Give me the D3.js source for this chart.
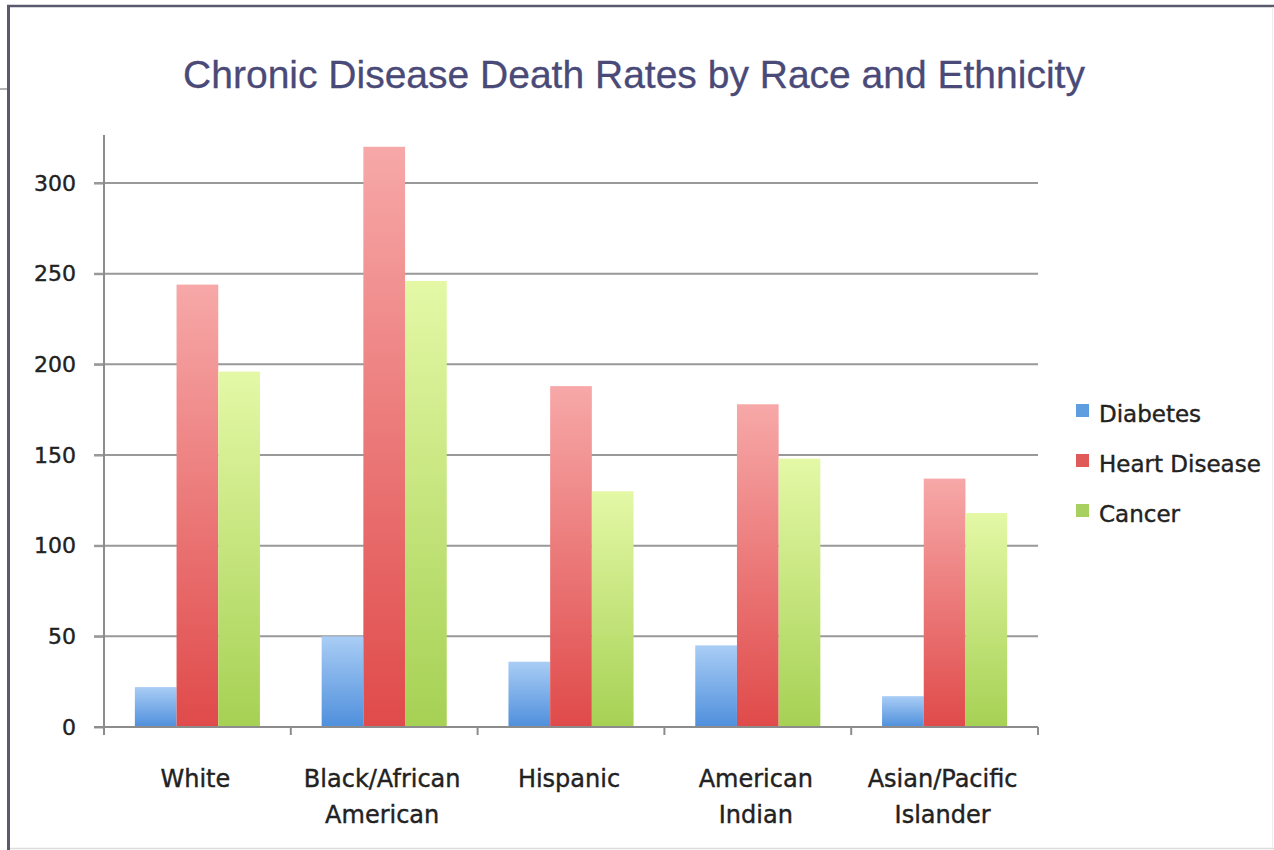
<!DOCTYPE html>
<html>
<head>
<meta charset="utf-8">
<script src="https://cdn.jsdelivr.net/npm/d3@7"></script>
<style>
  html, body { margin: 0; padding: 0; background: #ffffff; }
  svg { display: block; }
</style>
</head>
<body>
<svg id="chart" width="1274" height="850"></svg>
<script>
const categories = ["White", "Black/African American", "Hispanic", "American Indian", "Asian/Pacific Islander"];
const categoryLines = [["White"], ["Black/African", "American"], ["Hispanic"], ["American", "Indian"], ["Asian/Pacific", "Islander"]];
const seriesNames = ["Diabetes", "Heart Disease", "Cancer"];
const diabetes = [22, 50, 36, 45, 17];
const heartDisease = [244, 320, 188, 178, 137];
const cancer = [196, 246, 130, 148, 118];
const yTicks = [0, 50, 100, 150, 200, 250, 300];
const titleText = "Chronic Disease Death Rates by Race and Ethnicity";

(function () {
const seriesValues = [diabetes, heartDisease, cancer];
const gradStops = [
  ["#a9cdf5", "#4f8fdc"],
  ["#f7a8a8", "#e04a4a"],
  ["#e4f8a6", "#a6d154"]
];
const legendColors = ["#5e9de0", "#e05a5a", "#a8d060"];

const svg = d3.select("#chart");

// frame
svg.append("rect").attr("x", 0).attr("y", 0).attr("width", 1274).attr("height", 850).attr("fill", "#fff");
svg.append("line").attr("x1", 8.5).attr("x2", 8.5).attr("y1", 5).attr("y2", 850)
  .attr("stroke", "#5a5a6e").attr("stroke-width", 3);
svg.append("line").attr("x1", 7).attr("x2", 1274).attr("y1", 6).attr("y2", 6)
  .attr("stroke", "#5a5a6e").attr("stroke-width", 2.5);
svg.append("line").attr("x1", 0).attr("x2", 7).attr("y1", 89).attr("y2", 89)
  .attr("stroke", "#9a9a9a").attr("stroke-width", 1.5);
svg.append("line").attr("x1", 10).attr("x2", 1274).attr("y1", 848.5).attr("y2", 848.5)
  .attr("stroke", "#dcdcdc").attr("stroke-width", 1.5);
svg.append("line").attr("x1", 1272.5).attr("x2", 1272.5).attr("y1", 7).attr("y2", 848)
  .attr("stroke", "#eeeeee").attr("stroke-width", 1);

// gradients
const defs = svg.append("defs");
gradStops.forEach((g, i) => {
  const lg = defs.append("linearGradient").attr("id", "g" + i)
    .attr("x1", 0).attr("y1", 0).attr("x2", 0).attr("y2", 1);
  lg.append("stop").attr("offset", "0%").attr("stop-color", g[0]);
  lg.append("stop").attr("offset", "100%").attr("stop-color", g[1]);
});

// scales
const pLeft = 104, pRight = 1038, pTop = 135, pBottom = 727;
const x0 = d3.scaleBand().domain(categories).range([pLeft, pRight]).padding(0);
const x1 = d3.scaleBand().domain(seriesNames).range([0, x0.bandwidth()]).paddingInner(0).paddingOuter(0.74);
const y = d3.scaleLinear().domain([0, 326.5]).range([pBottom, pTop]);

// gridlines
svg.append("g").selectAll("line").data(yTicks.filter(d => d > 0)).join("line")
  .attr("x1", pLeft - 10).attr("x2", pRight)
  .attr("y1", d => y(d)).attr("y2", d => y(d))
  .attr("stroke", "#999").attr("stroke-width", 2);

// bars
categories.forEach((c, ci) => {
  seriesNames.forEach((s, si) => {
    const v = seriesValues[si][ci];
    svg.append("rect")
      .attr("x", x0(c) + x1(s))
      .attr("width", x1.bandwidth())
      .attr("y", y(v))
      .attr("height", y(0) - y(v))
      .attr("fill", "url(#g" + si + ")");
  });
});

// y axis
const yAxis = d3.axisLeft(y).tickValues(yTicks).tickSize(10).tickPadding(18).tickFormat(d3.format("d"));
const gy = svg.append("g").attr("transform", `translate(${pLeft},0)`).call(yAxis);
gy.select(".domain").remove();
gy.append("line").attr("x1", 0).attr("x2", 0).attr("y1", pTop).attr("y2", pBottom)
  .attr("stroke", "#8c8c8c").attr("stroke-width", 2);
gy.selectAll(".tick line").attr("stroke", "#999").attr("stroke-width", 2);
gy.selectAll(".tick text").attr("font-family", "DejaVu Sans, sans-serif").attr("font-size", 22)
  .attr("fill", "#222").attr("stroke", "#222").attr("stroke-width", 0.4);

// x axis
svg.append("line").attr("x1", pLeft - 10).attr("x2", pRight).attr("y1", pBottom).attr("y2", pBottom)
  .attr("stroke", "#8c8c8c").attr("stroke-width", 2);
const tickXs = categories.map(c => x0(c)).concat([pRight]);
svg.append("g").selectAll("line").data(tickXs).join("line")
  .attr("x1", d => d).attr("x2", d => d).attr("y1", pBottom).attr("y2", pBottom + 8)
  .attr("stroke", "#8c8c8c").attr("stroke-width", 2);

const xl = svg.append("g");
categories.forEach((c, ci) => {
  const cx = x0(c) + x0.bandwidth() / 2 - 2;
  const t = xl.append("text")
    .attr("x", cx)
    .attr("y", 787)
    .attr("text-anchor", "middle")
    .attr("font-family", "DejaVu Sans, sans-serif")
    .attr("font-size", 24)
    .attr("fill", "#222").attr("stroke", "#222").attr("stroke-width", 0.4);
  categoryLines[ci].forEach((line, li) => {
    t.append("tspan").attr("x", cx).attr("dy", li === 0 ? 0 : 36).text(line);
  });
});

// title
svg.append("text").attr("x", 634).attr("y", 88).attr("text-anchor", "middle")
  .attr("font-family", "Liberation Sans, Arial, sans-serif").attr("font-size", 39)
  .attr("fill", "#4a4a78").attr("stroke", "#4a4a78").attr("stroke-width", 0.3).text(titleText);

// legend
const lg = svg.append("g");
seriesNames.forEach((s, i) => {
  const cy = 413 + i * 50;
  lg.append("rect").attr("x", 1076).attr("y", cy - 9).attr("width", 13).attr("height", 13)
    .attr("fill", legendColors[i]);
  lg.append("text").attr("x", 1099).attr("y", cy + 9)
    .attr("font-family", "DejaVu Sans, sans-serif").attr("font-size", 23)
    .attr("fill", "#222").attr("stroke", "#222").attr("stroke-width", 0.4).text(s);
});
})();
</script>
</body>
</html>
